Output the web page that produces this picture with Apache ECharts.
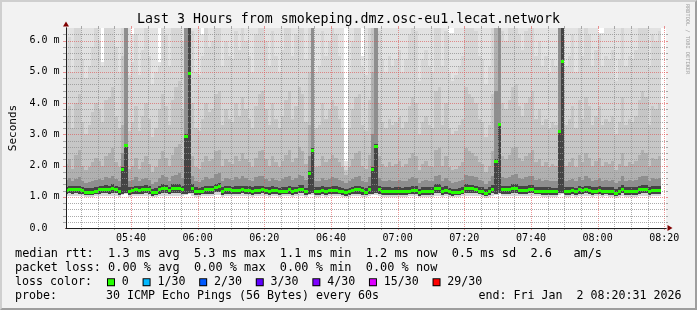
<!DOCTYPE html>
<html>
<head>
<meta charset="utf-8">
<script src="https://cdn.jsdelivr.net/npm/echarts@6/dist/echarts.min.js"></script>
<style>
html,body{margin:0;padding:0;background:#f2f2f2;}
#wrap{position:relative;width:697px;height:310px;}
#c{position:absolute;left:0;top:0;width:697px;height:310px;}
#frame{position:absolute;left:0;top:0;width:697px;height:310px;box-sizing:border-box;
  border-top:2px solid #cfcfcf;border-left:2px solid #cfcfcf;border-right:2px solid #9e9e9e;border-bottom:2px solid #9e9e9e;pointer-events:none;}
</style>
</head>
<body>
<div id="wrap"><div id="c"></div><div id="frame"></div></div>
<script>
// ---------------- data (milliseconds), one sample per minute from 05:20 ----------------
const firstSampleMinute = 320;           // 05:20
const viewStart = 320 + 31 / 60;         // 05:20:31
const viewEnd = 500 + 31 / 60;           // 08:20:31

const median = [
1.21,1.25,1.25,1.25,1.24,1.21,1.16,1.16,1.16,1.19,
1.24,1.25,1.25,1.25,1.29,1.25,1.19,1.89,2.65,1.19,
1.21,1.24,1.21,1.24,1.25,1.25,1.14,1.16,1.24,1.29,
1.27,1.21,1.29,1.29,1.29,1.25,2.95,4.97,1.29,1.19,
1.18,1.20,1.24,1.24,1.24,1.31,1.33,1.19,1.24,1.24,
1.21,1.23,1.23,1.25,1.23,1.23,1.19,1.23,1.23,1.25,
1.21,1.19,1.23,1.21,1.18,1.20,1.20,1.24,1.19,1.21,
1.26,1.26,1.18,1.77,2.51,1.19,1.19,1.23,1.19,1.21,
1.23,1.23,1.20,1.18,1.14,1.18,1.21,1.24,1.24,1.21,
1.16,1.24,1.89,2.63,1.24,1.19,1.19,1.19,1.18,1.19,
1.19,1.18,1.19,1.20,1.23,1.23,1.14,1.19,1.19,1.19,
1.19,1.29,1.29,1.19,1.23,1.18,1.14,1.15,1.16,1.20,
1.29,1.28,1.28,1.25,1.20,1.19,1.13,1.19,1.26,2.15,
3.32,1.24,1.24,1.24,1.29,1.29,1.23,1.23,1.23,1.26,
1.26,1.20,1.20,1.19,1.19,1.19,1.18,1.18,3.10,5.33,
1.19,1.19,1.21,1.18,1.24,1.21,1.25,1.23,1.19,1.20,
1.23,1.19,1.20,1.19,1.19,1.13,1.19,1.26,1.19,1.19,
1.19,1.19,1.24,1.26,1.26,1.19,1.23,1.23,1.23];

const smokeMin = [
1.02,1.03,1.02,1.03,1.02,1.01,0.99,1.00,1.00,1.01,
1.02,1.03,1.03,1.02,1.04,1.03,1.00,1.05,1.08,1.00,
1.01,1.02,1.01,1.02,1.03,1.02,0.98,0.99,1.02,1.04,
1.03,1.01,1.04,1.04,1.03,1.02,1.06,1.08,1.04,1.00,
1.00,1.01,1.02,1.02,1.02,1.05,1.06,1.00,1.02,1.02,
1.01,1.02,1.02,1.03,1.02,1.02,1.00,1.02,1.02,1.03,
1.01,1.00,1.02,1.01,0.99,1.01,1.01,1.02,1.00,1.01,
1.03,1.03,0.99,1.05,1.07,1.00,1.00,1.02,1.00,1.01,
1.02,1.02,1.01,0.99,0.98,0.99,1.01,1.02,1.02,1.00,
0.99,1.02,1.05,1.07,1.02,1.00,1.00,1.00,0.99,1.00,
1.00,0.99,1.00,1.01,1.02,1.02,0.98,1.00,1.00,1.00,
1.00,1.04,1.04,1.00,1.02,0.99,0.98,0.98,0.99,1.01,
1.04,1.03,1.03,1.03,1.01,1.00,0.97,1.00,1.03,1.05,
1.08,1.02,1.02,1.02,1.04,1.04,1.02,1.02,1.02,1.03,
1.03,1.01,1.01,1.00,1.00,1.00,0.99,0.99,1.07,1.09,
1.00,1.00,1.01,0.99,1.02,1.01,1.03,1.02,1.00,1.01,
1.02,1.00,1.01,1.00,1.00,0.97,1.00,1.03,1.00,1.00,
1.00,1.00,1.02,1.03,1.03,1.00,1.02,1.02,1.02];

const smokeLow = [
1.09,1.11,1.10,1.11,1.10,1.08,1.06,1.07,1.07,1.08,
1.10,1.11,1.11,1.10,1.13,1.11,1.07,1.10,1.12,1.07,
1.08,1.10,1.08,1.10,1.11,1.10,1.04,1.06,1.10,1.13,
1.12,1.08,1.13,1.13,1.12,1.10,1.10,1.12,1.13,1.07,
1.07,1.08,1.10,1.10,1.10,1.14,1.15,1.07,1.10,1.10,
1.08,1.10,1.10,1.11,1.10,1.10,1.07,1.10,1.10,1.11,
1.08,1.07,1.10,1.08,1.06,1.08,1.08,1.10,1.07,1.08,
1.12,1.12,1.06,1.09,1.11,1.07,1.07,1.10,1.07,1.08,
1.10,1.10,1.08,1.06,1.04,1.06,1.08,1.10,1.10,1.07,
1.05,1.10,1.10,1.12,1.10,1.07,1.07,1.07,1.06,1.07,
1.07,1.06,1.07,1.08,1.10,1.10,1.04,1.07,1.07,1.07,
1.07,1.13,1.13,1.07,1.10,1.06,1.04,1.05,1.06,1.08,
1.13,1.12,1.12,1.11,1.08,1.07,1.03,1.07,1.12,1.10,
1.12,1.10,1.10,1.10,1.13,1.13,1.10,1.10,1.10,1.12,
1.12,1.08,1.08,1.07,1.07,1.07,1.06,1.06,1.11,1.13,
1.07,1.07,1.08,1.06,1.10,1.08,1.11,1.10,1.07,1.08,
1.10,1.07,1.08,1.07,1.07,1.03,1.07,1.12,1.07,1.07,
1.07,1.07,1.10,1.12,1.12,1.07,1.10,1.10,1.10];

const smokeP52 = [
1.32,1.36,1.35,1.36,1.34,1.31,1.27,1.28,1.27,1.30,
1.35,1.36,1.37,1.35,1.40,1.36,1.30,1.95,2.70,1.30,
1.32,1.35,1.33,1.35,1.37,1.36,1.25,1.27,1.35,1.40,
1.38,1.32,1.40,1.41,1.40,1.36,3.00,7.00,1.40,1.30,
1.29,1.31,1.35,1.36,1.35,1.42,1.44,1.30,1.35,1.35,
1.32,1.34,1.34,1.36,1.34,1.34,1.30,1.34,1.34,1.36,
1.32,1.30,1.34,1.32,1.29,1.31,1.31,1.35,1.30,1.32,
1.37,1.37,1.29,1.82,2.56,1.30,1.30,1.34,1.30,1.32,
1.34,1.34,1.31,1.29,1.25,1.29,1.32,1.35,1.35,1.32,
1.27,1.35,1.94,2.68,1.35,1.30,1.30,1.30,1.29,1.30,
1.30,1.29,1.30,1.31,1.34,1.34,1.25,1.30,1.30,1.30,
1.30,1.40,1.40,1.30,1.34,1.29,1.25,1.26,1.27,1.31,
1.40,1.39,1.39,1.36,1.31,1.30,1.24,1.30,1.37,2.20,
3.37,1.35,1.35,1.35,1.40,1.40,1.34,1.34,1.34,1.37,
1.37,1.31,1.31,1.30,1.30,1.30,1.29,1.29,3.15,7.00,
1.30,1.30,1.32,1.29,1.35,1.32,1.36,1.34,1.30,1.31,
1.34,1.30,1.31,1.30,1.30,1.24,1.30,1.37,1.30,1.30,
1.30,1.30,1.35,1.37,1.37,1.30,1.34,1.34,1.34];

const smokeP60 = [
1.55,1.60,1.52,1.58,1.62,1.50,1.45,1.48,1.52,1.55,
1.58,1.55,1.62,1.60,1.68,1.58,1.52,2.40,7.00,1.50,
1.55,1.62,1.50,1.58,1.60,1.55,1.42,1.48,1.60,1.70,
1.62,1.52,1.65,1.70,1.75,1.60,7.00,7.00,1.65,1.50,
1.48,1.55,1.62,1.58,1.60,1.72,1.75,1.52,1.60,1.58,
1.55,1.62,1.58,1.65,1.60,1.55,1.50,1.62,1.65,1.68,
1.58,1.52,1.60,1.55,1.50,1.58,1.62,1.65,1.55,1.60,
1.70,1.68,1.55,2.30,7.00,1.50,1.52,1.60,1.55,1.58,
1.62,1.60,1.55,1.50,1.45,1.50,1.58,1.62,1.65,1.52,
1.48,1.62,3.00,7.00,1.60,1.52,1.50,1.55,1.50,1.52,
1.55,1.50,1.52,1.58,1.62,1.60,1.45,1.52,1.55,1.52,
1.50,1.68,1.70,1.52,1.60,1.50,1.45,1.48,1.50,1.55,
1.70,1.68,1.65,1.62,1.55,1.52,1.42,1.52,1.68,4.40,
7.00,1.62,1.60,1.62,1.70,1.72,1.60,1.58,1.62,1.65,
1.68,1.55,1.58,1.52,1.55,1.50,1.52,1.50,7.00,7.00,
1.52,1.55,1.58,1.50,1.62,1.55,1.65,1.60,1.52,1.55,
1.60,1.52,1.55,1.52,1.55,1.45,1.52,1.65,1.52,1.55,
1.52,1.55,1.62,1.68,1.65,1.52,1.60,1.58,1.60];

const smokeP70 = [
2.05,2.20,1.90,2.35,2.50,2.00,1.85,1.95,2.10,2.25,
2.15,2.00,2.30,2.40,2.55,2.10,1.95,3.30,7.00,1.90,
2.00,2.25,1.90,2.10,2.30,2.05,1.80,1.95,2.20,2.45,
2.25,2.00,2.35,2.60,2.70,2.20,7.00,7.00,2.30,1.95,
1.90,2.10,2.30,2.15,2.20,2.45,2.50,2.00,2.20,2.10,
2.05,2.30,2.15,2.40,2.20,2.10,1.95,2.25,2.45,2.50,
2.20,2.00,2.30,2.10,1.95,2.15,2.35,2.50,2.10,2.25,
2.60,2.45,2.05,3.30,7.00,1.95,2.00,2.30,2.10,2.20,
2.35,2.25,2.10,1.95,1.70,1.95,2.20,2.40,2.45,2.00,
1.90,2.35,5.00,7.00,2.30,2.05,1.95,2.10,2.00,2.05,
2.15,1.95,2.05,2.25,2.40,2.30,1.85,2.05,2.15,2.00,
1.95,2.50,2.55,2.00,2.30,1.95,1.85,1.90,2.00,2.10,
2.55,2.45,2.40,2.30,2.10,2.05,1.80,2.00,2.45,7.00,
7.00,2.30,2.20,2.35,2.55,2.60,2.25,2.15,2.30,2.40,
2.50,2.10,2.20,2.00,2.10,1.95,2.05,2.00,7.00,7.00,
2.00,2.10,2.25,1.95,2.35,2.10,2.40,2.25,2.00,2.15,
2.25,2.00,2.10,2.05,2.15,1.85,2.05,2.40,2.00,2.10,
2.05,2.15,2.35,2.50,2.40,2.00,2.25,2.20,2.30];

const smokeP80 = [
3.60,3.90,3.20,4.00,4.30,3.40,3.00,3.30,3.70,4.00,
3.80,3.40,4.10,4.20,4.50,3.60,3.20,5.50,7.00,3.10,
3.40,3.90,3.10,3.60,4.00,3.50,2.90,3.20,3.80,4.30,
3.90,3.30,4.10,4.50,4.70,3.80,7.00,7.00,4.00,3.20,
3.10,3.50,4.00,3.70,3.80,4.30,4.40,3.30,3.80,3.50,
3.40,4.00,3.60,4.20,3.80,3.50,3.20,3.90,4.30,4.40,
3.80,3.30,4.00,3.50,3.20,3.60,4.10,4.40,3.50,3.90,
4.50,4.30,3.40,5.00,7.00,3.20,3.30,4.00,3.50,3.80,
4.10,3.90,3.50,3.20,1.85,3.20,3.80,4.20,4.30,3.30,
3.10,4.10,7.00,7.00,4.00,3.40,3.20,3.50,3.30,3.40,
3.60,3.20,3.40,3.90,4.20,4.00,3.00,3.40,3.60,3.30,
3.20,4.40,4.50,3.30,4.00,3.20,3.00,3.10,3.30,3.50,
4.50,4.30,4.20,4.00,3.50,3.40,2.90,3.30,4.30,7.00,
7.00,4.00,3.80,4.10,4.50,4.60,3.90,3.60,4.00,4.20,
4.40,3.50,3.80,3.30,3.50,3.20,3.40,3.30,7.00,7.00,
3.30,3.50,3.90,3.20,4.10,3.50,4.20,3.90,3.30,3.60,
3.90,3.30,3.50,3.40,3.60,3.00,3.40,4.20,3.30,3.50,
3.40,3.60,4.10,4.40,4.20,3.30,3.90,3.80,4.00];

const smokeP90 = [
5.60,6.10,5.00,7.00,7.00,5.40,4.80,5.20,5.80,7.00,
6.00,5.20,7.00,7.00,7.00,5.80,5.00,7.00,7.00,4.90,
5.30,6.20,4.90,5.70,7.00,5.50,4.60,5.00,5.20,7.00,
6.20,5.20,7.00,7.00,7.00,6.00,7.00,7.00,6.30,5.00,
4.90,5.50,7.00,5.80,6.00,7.00,7.00,5.20,6.00,5.50,
5.40,6.30,5.70,7.00,6.00,5.50,5.00,6.20,7.00,7.00,
6.00,5.20,6.30,5.50,5.00,5.70,6.50,7.00,5.50,6.20,
7.00,7.00,5.40,7.00,7.00,5.00,5.20,6.30,5.50,6.00,
6.50,6.20,5.50,5.00,2.00,5.00,6.00,7.00,7.00,5.20,
4.90,6.50,7.00,7.00,6.30,5.40,5.00,5.50,5.20,5.40,
5.70,5.00,5.40,6.20,7.00,6.30,4.70,5.40,5.70,5.20,
5.00,7.00,7.00,5.20,6.30,5.00,4.70,4.90,5.20,5.50,
7.00,7.00,6.60,6.30,5.50,5.40,4.60,5.20,7.00,7.00,
7.00,6.30,6.00,6.50,7.00,7.00,6.20,5.70,6.30,6.60,
7.00,5.50,6.00,5.20,5.50,5.00,5.40,5.20,7.00,7.00,
5.20,5.50,6.20,5.00,6.50,5.50,6.60,6.20,5.20,5.70,
6.20,5.20,5.50,5.40,5.70,4.70,5.40,6.60,5.20,5.50,
5.40,5.70,6.50,7.00,6.60,5.20,6.20,6.00,6.30];

const smokeMax = [
7,7,7,7,7,7,7,7,7,7,
7,5.30,7,7,7,7,7,7,7,7,
6.20,7,7,7,7,7,7,7,5.30,7,
7,7,7,7,7,7,7,7,7,7,
7,6.20,7,7,7,7,7,7,7,7,
7,7,7,7,7,7,7,7,7,7,
7,7,7,7,7,7,7,7,7,7,
7,7,7,7,7,7,7,7,7,7,
7,7,7,7,2.15,7,7,7,7,5.50,
7,7,7,7,7,7,7,7,7,7,
7,7,7,7,7,7,7,7,7,7,
7,7,7,7,7,6.25,6.25,7,7,7,
7,7,7,7,7,7,7,7,7,7,
7,7,7,7,7,7,7,7,7,7,
7,7,7,7,7,7,7,7,7,7,
7,7,7,7,7,7,7,7,7,7,
6.25,6.25,7,7,7,7,7,7,7,7,
7,7,7,7,7,7,7,7,7];

// grid positions (minutes / ms)
const gridMinorX = [325,330,335,345,350,355,365,370,375,385,390,395,405,410,415,425,430,435,445,450,455,465,470,475,485,490,495];
const gridMajorX = [340,360,380,400,420,440,460,480,500];
const gridMinorY = [0.2,0.4,0.6,0.8,1.2,1.4,1.6,1.8,2.2,2.4,2.6,2.8,3.2,3.4,3.6,3.8,4.2,4.4,4.6,4.8,5.2,5.4,5.6,5.8,6.2];
const gridMajorY = [1,2,3,4,5,6];

const lossLabels = ['0','1/30','2/30','3/30','4/30','15/30','29/30'];
const lossColors = ['#26ff00','#00b8ff','#0059ff','#5e00ff','#7e00ff','#dd00ff','#ff0000'];

const titleText = 'Last 3 Hours from smokeping.dmz.osc-eu1.lecat.network';
const legendRow1 = 'median rtt:  1.3 ms avg  5.3 ms max  1.1 ms min  1.2 ms now  0.5 ms sd  2.6   am/s';
const legendRow2 = 'packet loss: 0.00 % avg  0.00 % max  0.00 % min  0.00 % now';
const legendRow4a = 'probe:       30 ICMP Echo Pings (56 Bytes) every 60s';
const legendRow4b = 'end: Fri Jan  2 08:20:31 2026';

// ---------------- build ----------------
const MONO = "'DejaVu Sans Mono', monospace";
const smokeData = median.map((_, i) => [firstSampleMinute + i, smokeMin[i], smokeLow[i], smokeP52[i], smokeP60[i], smokeP70[i], smokeP80[i], smokeP90[i], smokeMax[i]]);
const medianData = median.map((v, i) => [firstSampleMinute + i, v]);

const bandDefs = [[1, 8, '#e2e2e2'], [1, 7, '#d6d6d6'], [2, 6, '#c6c6c6'], [2, 5, '#b0b0b0'], [2, 4, '#8e8e8e'], [2, 3, '#444444']];

function smokeItem(params, api) {
  const t = api.value(0);
  const xa = Math.round(api.coord([t, 0])[0]);
  const xb = Math.round(api.coord([t + 1, 0])[0]);
  const children = bandDefs.map(([lo, hi, col]) => {
    const yb = Math.round(api.coord([t, api.value(lo)])[1]);
    const yt = Math.round(api.coord([t, api.value(hi)])[1]);
    return { type: 'rect', shape: { x: xa, y: yt, width: xb - xa, height: yb - yt }, style: { fill: col } };
  });
  return { type: 'group', children };
}
function medianItem(params, api) {
  const t = api.value(0);
  const xa = Math.round(api.coord([t, 0])[0]);
  const xb = Math.round(api.coord([t + 1, 0])[0]);
  const y = Math.round(api.coord([t, api.value(1)])[1]);
  return { type: 'rect', shape: { x: xa, y: y - 1, width: xb - xa, height: 3 }, style: { fill: '#26ff00' } };
}
function vGrid(color) {
  return function (params, api) {
    const cs = params.coordSys;
    const x = Math.round(api.coord([api.value(0), 0])[0]) + 0.5;
    const top = cs.y, bot = cs.y + cs.height;
    return { type: 'group', children: [
      { type: 'line', shape: { x1: x, y1: top, x2: x, y2: bot }, style: { stroke: color, lineWidth: 1, lineDash: [1, 1] } },
      { type: 'line', shape: { x1: x, y1: top - 2, x2: x, y2: top }, style: { stroke: color, lineWidth: 1 } },
      { type: 'line', shape: { x1: x, y1: bot, x2: x, y2: bot + 2 }, style: { stroke: color, lineWidth: 1 } }
    ] };
  };
}
function hGrid(color) {
  return function (params, api) {
    const cs = params.coordSys;
    const y = Math.round(api.coord([viewStart, api.value(1)])[1]) + 0.5;
    const l = cs.x, r = cs.x + cs.width;
    return { type: 'group', children: [
      { type: 'line', shape: { x1: l, y1: y, x2: r, y2: y }, style: { stroke: color, lineWidth: 1, lineDash: [1, 1] } },
      { type: 'line', shape: { x1: l - 3, y1: y, x2: l, y2: y }, style: { stroke: color, lineWidth: 1 } },
      { type: 'line', shape: { x1: r, y1: y, x2: r + 2, y2: y }, style: { stroke: color, lineWidth: 1 } }
    ] };
  };
}

const minorCol = 'rgba(143,143,143,0.75)';
const majorCol = 'rgba(222,79,79,0.6)';

let richStr = 'loss color:  {g0|}';
const rich = { g0: { width: 2 }, g: { width: 0.8 } };
lossLabels.forEach((lab, k) => {
  rich['c' + k] = { width: 6, height: 6, backgroundColor: lossColors[k], borderColor: '#000', borderWidth: 1 };
  richStr += '{c' + k + '|}{g|} ' + lab + (k < lossLabels.length - 1 ? '  {g|}' : '');
});

function fmtTime(v) {
  const r = Math.round(v);
  if (Math.abs(v - r) > 1e-6 || r % 20 !== 0) return '';
  const h = Math.floor(r / 60), m = r % 60;
  return String(h).padStart(2, '0') + ':' + String(m).padStart(2, '0');
}
function fmtY(v) {
  const r = Math.round(v);
  if (Math.abs(v - r) > 1e-6) return '';
  return r === 0 ? '0.0' : r.toFixed(1) + ' m';
}

const chart = echarts.init(document.getElementById('c'), null, { renderer: 'canvas' });
chart.setOption({
  animation: false,
  backgroundColor: '#f2f2f2',
  title: { text: titleText, left: 'center', top: 13, padding: 0,
    textStyle: { fontFamily: MONO, fontSize: 13.25, fontWeight: 'normal', color: '#000' } },
  grid: { left: 66, top: 28, right: 31, bottom: 82, containLabel: false, outerBoundsMode: 'none',
    show: true, backgroundColor: '#ffffff', borderWidth: 0 },
  xAxis: [
    { type: 'value', min: viewStart, max: viewEnd, splitNumber: 9, z: 5,
      axisLine: { show: true, lineStyle: { color: '#1f1f1f', width: 1 } },
      axisTick: { show: false }, splitLine: { show: false },
      axisLabel: { formatter: fmtTime, margin: 5.5, fontFamily: MONO, fontSize: 10, color: '#000' } },
    { type: 'value', min: viewStart, max: viewEnd, z: 4, position: 'bottom', offset: 0,
      axisLine: { show: true, lineStyle: { color: '#800000', width: 1 }, symbol: ['none', 'triangle'], symbolSize: [6, 5], symbolOffset: [0, 4] },
      axisTick: { show: false }, splitLine: { show: false }, axisLabel: { show: false } }
  ],
  yAxis: [
    { type: 'value', min: 0, max: 6.4, interval: 1, z: 5,
      name: 'Seconds', nameLocation: 'middle', nameRotate: 90, nameGap: 47,
      nameTextStyle: { fontFamily: MONO, fontSize: 11, color: '#000' },
      axisLine: { show: true, lineStyle: { color: '#1f1f1f', width: 1 } },
      axisTick: { show: false }, splitLine: { show: false },
      axisLabel: { formatter: fmtY, align: 'left', margin: 36.5, fontFamily: MONO, fontSize: 10, color: '#000' } },
    { type: 'value', min: 0, max: 6.4, interval: 1, z: 4, position: 'left', offset: 0,
      axisLine: { show: true, lineStyle: { color: '#800000', width: 1 }, symbol: ['none', 'triangle'], symbolSize: [6, 5], symbolOffset: [0, 4] },
      axisTick: { show: false }, splitLine: { show: false }, axisLabel: { show: false } }
  ],
  series: [
    { type: 'custom', name: 'smoke', renderItem: smokeItem, data: smokeData, clip: true, z: 2,
      encode: { x: 0, y: 1 }, silent: true },
    { type: 'custom', name: 'minorX', renderItem: vGrid(minorCol), data: gridMinorX.map(v => [v, 0]), clip: false, z: 3, encode: { x: 0, y: 1 }, silent: true },
    { type: 'custom', name: 'majorX', renderItem: vGrid(majorCol), data: gridMajorX.map(v => [v, 0]), clip: false, z: 3, encode: { x: 0, y: 1 }, silent: true },
    { type: 'custom', name: 'minorY', renderItem: hGrid(minorCol), data: gridMinorY.map(v => [viewStart, v]), clip: false, z: 3, encode: { x: 0, y: 1 }, silent: true },
    { type: 'custom', name: 'majorY', renderItem: hGrid(majorCol), data: gridMajorY.map(v => [viewStart, v]), clip: false, z: 3, encode: { x: 0, y: 1 }, silent: true },
    { type: 'custom', name: 'median', renderItem: medianItem, data: medianData, clip: true, z: 4,
      encode: { x: 0, y: 1 }, silent: true }
  ],
  graphic: [
    { type: 'text', x: 687, y: 39, rotation: -Math.PI / 2, silent: true,
      style: { text: 'RRDTOOL / TOBI OETIKER', fontFamily: MONO, fontSize: 5.3, fill: '#a0a0a0', align: 'center', verticalAlign: 'middle' } },
    { type: 'text', x: 15, y: 254.2, silent: true,
      style: { text: legendRow1, fontFamily: MONO, fontSize: 11.9, fill: '#000', verticalAlign: 'middle' } },
    { type: 'text', x: 15, y: 268.2, silent: true,
      style: { text: legendRow2, fontFamily: MONO, fontSize: 11.9, fill: '#000', verticalAlign: 'middle' } },
    { type: 'text', x: 15, y: 282.2, silent: true,
      style: { text: richStr, rich: rich, fontFamily: MONO, fontSize: 11.63, fill: '#000', verticalAlign: 'middle' } },
    { type: 'text', x: 15, y: 296, silent: true,
      style: { text: legendRow4a, fontFamily: MONO, fontSize: 11.63, fill: '#000', verticalAlign: 'middle' } },
    { type: 'text', x: 681.5, y: 296, silent: true,
      style: { text: legendRow4b, fontFamily: MONO, fontSize: 11.63, fill: '#000', align: 'right', verticalAlign: 'middle' } }
  ]
});
</script>
</body>
</html>
